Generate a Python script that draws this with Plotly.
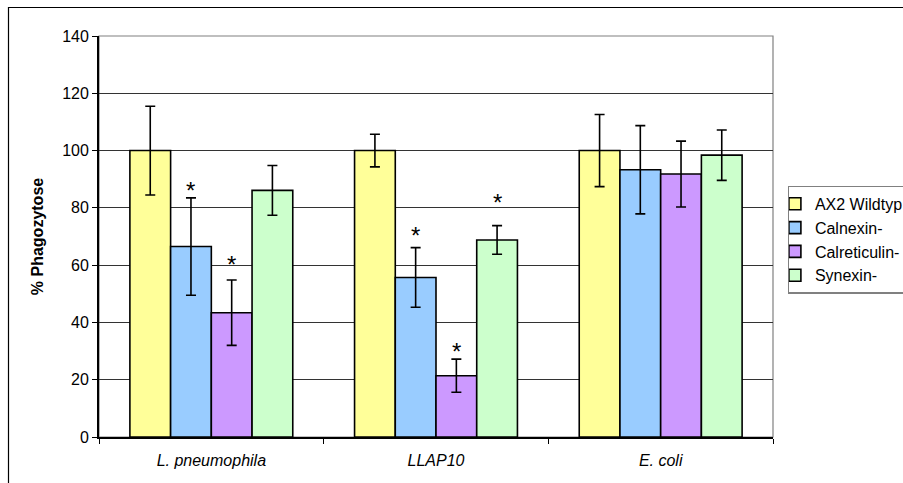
import plotly.graph_objects as go

categories = ["L. pneumophila", "LLAP10", "E. coli"]
series = ["AX2 Wildtyp", "Calnexin-", "Calreticulin-", "Synexin-"]
colors = ["#FFFF99", "#99CCFF", "#CC99FF", "#CCFFCC"]
values = [
    [100, 100, 100],
    [66.5, 55.7, 93.3],
    [43.4, 21.4, 91.8],
    [86.1, 68.8, 98.4],
]
errors = [
    [15.5, 5.7, 12.6],
    [17.0, 10.4, 15.4],
    [11.4, 5.8, 11.5],
    [8.7, 5.0, 8.8],
]
# significance markers: (category index, series index, y value)
stars = [(0, 1, 88.0), (0, 2, 62.4), (1, 1, 72.3), (1, 2, 32.1), (1, 3, 83.9)]

bargap = 0.275
bw = (1 - bargap) / len(series)
FONT = "Liberation Sans, Arial"

fig = go.Figure()
for i, s in enumerate(series):
    fig.add_trace(go.Bar(
        x=list(range(len(categories))), y=values[i], name=s,
        marker=dict(color=colors[i], line=dict(color="black", width=1.6)),
        error_y=dict(type="data", array=errors[i], color="black", thickness=1.6, width=5),
    ))

for ci, si, yv in stars:
    xc = ci + (si - (len(series) - 1) / 2) * bw
    fig.add_annotation(x=xc, y=yv, text="*", showarrow=False, xref="x", yref="y",
                       font=dict(family=FONT, size=24, color="black"),
                       yanchor="middle", yshift=-6)

L, T, R, B = 99, 36, 130, 46
W, H = 903, 483
pw, ph = W - L - R, H - T - B

# outer chart border
fig.add_shape(type="rect", xref="paper", yref="paper",
              x0=(8.5 - L) / pw, x1=(W + 20 - L) / pw,
              y0=-(B + 20) / ph, y1=(H - B - 7.5) / ph,
              line=dict(color="black", width=1.2), layer="below")
# plot area border (gray)
fig.add_shape(type="rect", xref="paper", yref="paper", x0=0, x1=1, y0=0, y1=1,
              line=dict(color="#808080", width=1.2), layer="below")

fig.update_layout(
    width=W, height=H, autosize=False,
    margin=dict(l=L, r=R, t=T, b=B),
    paper_bgcolor="white", plot_bgcolor="white",
    barmode="group", bargap=bargap, bargroupgap=0,
    font=dict(family=FONT, size=16, color="black"),
    showlegend=True,
    legend=dict(xref="container", yref="container", x=787.7 / W, y=1 - 185.7 / H,
                xanchor="left", yanchor="top",
                bordercolor="#808080", borderwidth=1.2, bgcolor="white",
                font=dict(size=16), itemwidth=30,
                indentation=-14),
)
fig.update_xaxes(
    tickmode="array", tickvals=list(range(len(categories))),
    ticktext=["<i>%s</i>" % c for c in categories],
    range=[-0.5, len(categories) - 0.5],
    showline=True, linecolor="black", linewidth=1.8,
    ticks="", showgrid=False, zeroline=False, ticklabelstandoff=8,
)
# category boundary tick marks
fig.update_xaxes(minor=dict(tickmode="array", tickvals=[-0.5, 0.5, 1.5, 2.5],
                            ticks="outside", ticklen=5, tickcolor="black", tickwidth=1, showgrid=False))
fig.update_yaxes(
    range=[0, 140], tickvals=[0, 20, 40, 60, 80, 100, 120, 140],
    showline=True, linecolor="black", linewidth=1.8,
    ticks="outside", ticklen=5, tickcolor="black", tickwidth=1,
    showgrid=True, gridcolor="#333333", gridwidth=1, zeroline=False,
    title=dict(text="<b>% Phagozytose</b>", font=dict(size=16), standoff=15),
)

fig.write_html("out.html")
